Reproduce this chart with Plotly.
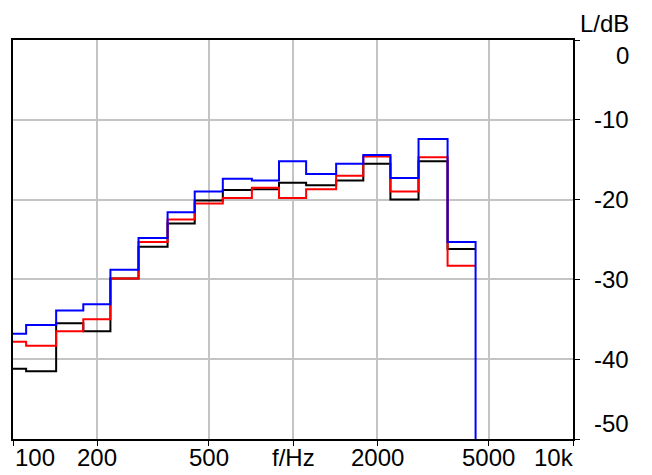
import math
import plotly.graph_objects as go

# third-octave band centres (Hz)
centers = [100, 125, 160, 200, 250, 315, 400, 500, 630, 800, 1000, 1250, 1600, 2000, 2500, 3150, 4000]
# band levels L/dB
blue = [-36.8, -35.7, -33.9, -33.1, -28.8, -24.8, -21.6, -19.0, -17.4, -17.6, -15.2, -16.8, -15.5, -14.4, -17.3, -12.4, -25.3]
red = [-37.8, -38.3, -36.5, -35.0, -29.9, -25.3, -22.5, -20.5, -19.8, -18.5, -19.8, -18.7, -17.0, -14.6, -19.0, -14.7, -28.3]
black = [-41.2, -41.5, -35.5, -36.5, -29.9, -25.9, -23.0, -20.1, -18.8, -18.7, -17.9, -18.2, -17.6, -15.5, -20.0, -15.2, -26.2]
floor_level = -70  # level after the last band (off scale)

x_tickvals = [100, 200, 500, 1000, 2000, 5000, 10000]
x_ticktext = ["100", "200", "500", "f/Hz", "2000", "5000", "10k"]
y_tickvals = [0, -10, -20, -30, -40, -50]
y_ticktext = ["0", "-10", "-20", "-30", "-40", "-50"]

FONT = "Liberation Sans, Arial, sans-serif"
FS = 24

edges = [c * 10 ** -0.05 for c in centers] + [centers[-1] * 10 ** 0.05]

fig = go.Figure()
for vals, col, drop in [(black, "#000000", False), (red, "#ff0000", False), (blue, "#0000ff", True)]:
    if drop:
        xs, ys = edges, vals + [floor_level]
    else:
        xs, ys = edges, vals + [vals[-1]]
    fig.add_trace(go.Scatter(
        x=xs, y=ys, mode="lines",
        line=dict(color=col, width=2, shape="hv"),
        showlegend=False, hoverinfo="skip"))

fig.update_layout(
    width=652, height=475,
    margin=dict(l=13, r=79, t=40, b=36, autoexpand=False),
    paper_bgcolor="white", plot_bgcolor="white",
    font=dict(family=FONT, size=FS, color="black"),
)
fig.update_xaxes(
    type="log", range=[2, 4], automargin=False,
    tickvals=x_tickvals, showticklabels=False,
    ticks="outside", ticklen=5, tickwidth=1, tickcolor="black",
    showgrid=True, gridcolor="#c4c4c4", gridwidth=2,
    showline=True, linecolor="black", linewidth=2, mirror=True,
    zeroline=False,
)
fig.update_yaxes(
    side="right", range=[-50, 0], automargin=False,
    tickvals=y_tickvals, showticklabels=False,
    ticks="outside", ticklen=5, tickwidth=1, tickcolor="black",
    showgrid=True, gridcolor="#c4c4c4", gridwidth=2,
    showline=True, linecolor="black", linewidth=2, mirror=True,
    zeroline=False,
)

# x tick labels
for i, (v, t) in enumerate(zip(x_tickvals, x_ticktext)):
    anchor = "center"
    if i == 0:
        anchor = "left"
    elif i == len(x_tickvals) - 1:
        anchor = "right"
    fig.add_annotation(x=math.log10(v), xref="x", y=0, yref="paper", text=t, showarrow=False,
                       xanchor=anchor, yanchor="middle", yshift=-18,
                       xshift=3 if i == len(x_tickvals) - 1 else 0,
                       font=dict(family=FONT, size=FS, color="black"))

# y tick labels (right side, right-aligned)
for i, (v, t) in enumerate(zip(y_tickvals, y_ticktext)):
    ya = "middle"
    if i == 0:
        ya = "top"
    elif i == len(y_tickvals) - 1:
        ya = "bottom"
    fig.add_annotation(x=1, xref="paper", y=v, yref="y", text=t, showarrow=False,
                       xanchor="right", yanchor=ya, xshift=58,
                       font=dict(family=FONT, size=FS, color="black"))

fig.add_annotation(x=1, xref="paper", y=1, yref="paper", text="L/dB", showarrow=False,
                   xanchor="right", yanchor="middle", xshift=58, yshift=17,
                   font=dict(family=FONT, size=FS, color="black"))

fig.write_html("out.html",
               config={"displayModeBar": False, "staticPlot": True},
               post_script="document.body.style.margin='0';document.body.style.overflow='hidden';")
